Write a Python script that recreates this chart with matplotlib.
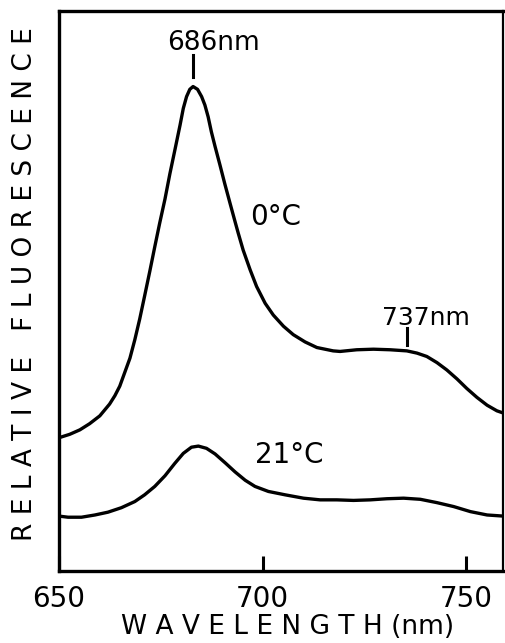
import matplotlib
matplotlib.use('Agg')
import matplotlib.pyplot as plt

# fluorescence emission spectra (relative units, 0-100)
wl_0c = [650.0, 652.6, 655.1, 657.5, 660.0, 662.4, 663.7, 664.9, 666.1, 667.4,
         668.6, 669.8, 671.0, 672.3, 673.5, 674.7, 676.0, 677.2, 678.5, 679.7,
         680.5, 681.3, 682.1, 682.9, 684.0, 685.0, 685.8, 686.6, 687.4, 688.3,
         689.5, 690.7, 692.0, 693.2, 694.0, 695.2, 696.9, 698.5, 700.6, 702.6,
         705.1, 707.5, 710.4, 713.3, 717.3, 719.0, 723.1, 727.2, 731.3, 735.4,
         737.9, 740.3, 742.8, 745.2, 747.7, 750.1, 752.6, 755.1, 757.5, 759.1]
fl_0c = [23.8, 24.4, 25.2, 26.3, 27.7, 29.8, 31.3, 33.0, 35.4, 38.0,
         41.3, 45.0, 49.1, 53.6, 57.9, 62.1, 66.4, 70.9, 75.4, 79.6,
         82.6, 84.7, 86.0, 86.5, 86.0, 84.7, 83.2, 81.1, 78.4, 75.8,
         72.5, 69.1, 65.6, 62.4, 60.3, 57.3, 53.8, 50.8, 47.8, 45.7,
         43.7, 42.2, 40.9, 39.9, 39.3, 39.2, 39.5, 39.6, 39.5, 39.3,
         38.9, 38.3, 37.2, 35.9, 34.3, 32.6, 31.0, 29.6, 28.6, 28.2]

wl_21c = [650.0, 652.2, 655.5, 658.8, 662.0, 665.3, 668.6, 671.0, 673.5, 676.0,
          678.4, 680.5, 682.5, 684.2, 686.2, 688.3, 690.8, 693.2, 695.7, 698.1,
          701.4, 705.5, 710.0, 714.1, 718.2, 722.3, 726.4, 730.5, 734.6, 738.7,
          742.8, 746.9, 751.0, 755.1, 759.1]
fl_21c = [9.8, 9.6, 9.6, 10.0, 10.5, 11.3, 12.4, 13.6, 15.1, 17.0,
          19.2, 21.0, 22.1, 22.3, 21.9, 20.9, 19.3, 17.7, 16.2, 15.1,
          14.2, 13.6, 13.0, 12.7, 12.7, 12.6, 12.7, 12.9, 13.0, 12.8,
          12.2, 11.5, 10.6, 10.0, 9.8]

x_ticks = [650, 700, 750]
# (wavelength, top, bottom) of the small peak marker strokes
peak_marks = [(682.9, 92.1, 88.2), (735.5, 43.4, 40.4)]

plt.rcParams['font.family'] = 'DejaVu Sans'

fig = plt.figure(figsize=(5.05, 6.43), dpi=100)
ax = fig.add_axes([0.117, 0.112, 0.879, 0.871])

ax.plot(wl_0c, fl_0c, color='black', linewidth=2.4, solid_joinstyle='round')
ax.plot(wl_21c, fl_21c, color='black', linewidth=2.4, solid_joinstyle='round')

for x, y_top, y_bot in peak_marks:
    ax.plot([x, x], [y_bot, y_top], color='black', linewidth=2.2)

ax.text(676.5, 93.0, '686nm', fontsize=19, va='baseline', ha='left')
ax.text(729.3, 43.9, '737nm', fontsize=18, va='baseline', ha='left')
ax.text(696.9, 61.8, '0°C', fontsize=20, va='baseline', ha='left')
ax.text(698.1, 19.3, '21°C', fontsize=20, va='baseline', ha='left')

ax.set_xlim(650, 759)
ax.set_ylim(0, 100)
ax.set_xticks(x_ticks)
ax.set_xticklabels([str(t) for t in x_ticks], fontsize=20)
ax.tick_params(axis='x', direction='in', length=10.8, width=2.2, pad=10)
ax.set_yticks([])

for side in ['left', 'bottom', 'top']:
    ax.spines[side].set_linewidth(2.4)
ax.spines['right'].set_linewidth(1.6)

fig.text(25 / 505, 1 - 284.5 / 643, 'R E L A T I V E   F L U O R E S C E N C E',
         rotation=90, ha='center', va='center', fontsize=19)
fig.text(288 / 505, 0.004, 'W A V E L E N G T H (nm)',
         ha='center', va='bottom', fontsize=19)

fig.savefig('out.png', dpi=100)
plt.close(fig)
